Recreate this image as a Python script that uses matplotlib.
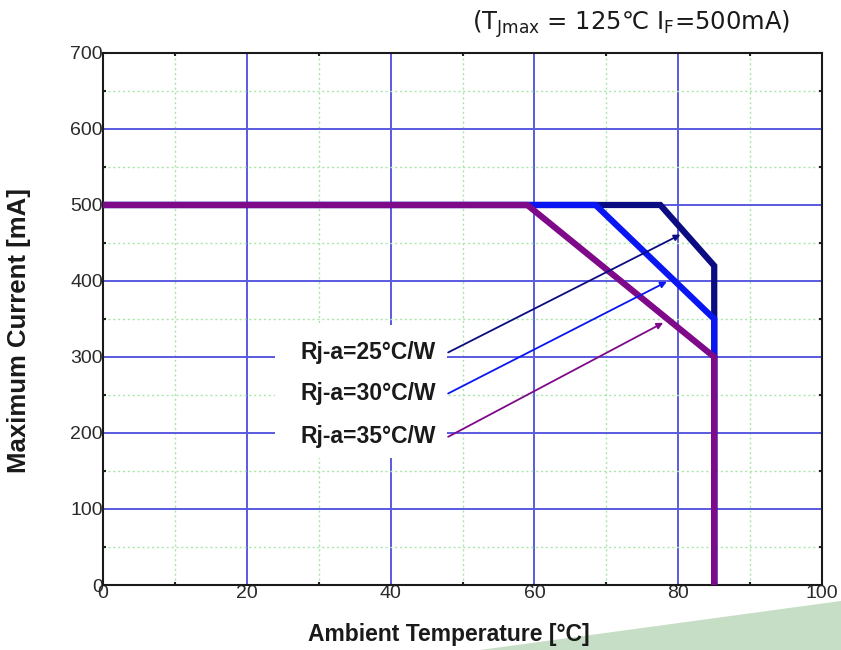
import matplotlib
matplotlib.use("Agg")
import matplotlib.pyplot as plt
from matplotlib.patches import Polygon, Rectangle
from matplotlib.ticker import MultipleLocator

# derating curves: ambient temperature [C] vs maximum current [mA]
temp_25 = [0, 77.5, 85, 85]
curr_25 = [500, 500, 420, 0]
temp_30 = [0, 68.5, 85, 85]
curr_30 = [500, 500, 350, 0]
temp_35 = [0, 59, 85, 85]
curr_35 = [500, 500, 300, 0]

labels = ["Rj-a=25°C/W", "Rj-a=30°C/W", "Rj-a=35°C/W"]
label_y = [306, 252, 195]
arrow_tips = [(80.3, 461), (78.4, 399), (77.9, 345)]
colors = ["#0c0c82", "#0a16f2", "#7e0a8a"]

fig = plt.figure(figsize=(8.41, 6.5), dpi=100)
ax = fig.add_axes([0.1225, 0.1, 0.855, 0.8185])

ax.set_xlim(0, 100)
ax.set_ylim(0, 700)
ax.xaxis.set_major_locator(MultipleLocator(20))
ax.xaxis.set_minor_locator(MultipleLocator(10))
ax.yaxis.set_major_locator(MultipleLocator(100))
ax.yaxis.set_minor_locator(MultipleLocator(50))

ax.grid(which="major", color="#5a5ae0", lw=1.4, zorder=1)
ax.grid(which="minor", color="#a8e6a8", lw=1.0, ls=(0, (1.5, 2)), zorder=1)
ax.set_axisbelow(True)

ax.tick_params(which="major", length=0, pad=0, labelsize=14,
               labelcolor="#2a2a2a", labelfontfamily="Liberation Sans")
ax.tick_params(which="minor", length=2.5, width=1.5, direction="in",
               top=True, right=True, color="#222222")
for s in ax.spines.values():
    s.set_linewidth(1.5)
    s.set_color("#1a1a1a")

# curves, highest resistance drawn last so it sits on top
for t, c, col in zip([temp_25, temp_30, temp_35],
                     [curr_25, curr_30, curr_35], colors):
    ax.plot(t, c, color=col, lw=4.5, solid_joinstyle="miter",
            solid_capstyle="butt", zorder=3)

# white backing for the label block
ax.add_patch(Rectangle((23.9, 167), 23.9, 175, facecolor="white",
                       edgecolor="none", zorder=4))

for lab, ly, tip, col in zip(labels, label_y, arrow_tips, colors):
    ax.text(46.3, ly, lab, ha="right", va="center", fontsize=16.5,
            fontweight="bold", family="Liberation Sans", color="#1a1a1a",
            zorder=5)
    ax.annotate("", xy=tip, xytext=(48, ly),
                arrowprops=dict(arrowstyle="-|>", color=col, lw=1.3,
                                mutation_scale=9, shrinkA=0, shrinkB=0),
                zorder=5)

ax.set_xlabel("Ambient Temperature [°C]", fontsize=16.5, fontweight="bold",
              family="Liberation Sans", color="#1a1a1a")
ax.xaxis.set_label_coords(0.481, -0.071)
ax.set_ylabel("Maximum Current [mA]", fontsize=18.5, fontweight="bold",
              family="Liberation Sans", color="#1a1a1a")
ax.yaxis.set_label_coords(-0.1, 0.479)

fig.text(0.94, 0.963, "(T$_{\\rm Jmax}$ = 125\u2103 I$_{\\rm F}$=500mA)",
         ha="right", va="center", fontsize=17.5, color="#1a1a1a",
         family=["DejaVu Sans", "Noto Sans CJK SC"])

# decorative page corner
fig.patches.append(Polygon([(480 / 841, 0), (1, 0.0754), (1, 0)],
                           closed=True, transform=fig.transFigure,
                           facecolor="#c6dec6", edgecolor="none", zorder=-1))

fig.savefig("out.png", dpi=100)
